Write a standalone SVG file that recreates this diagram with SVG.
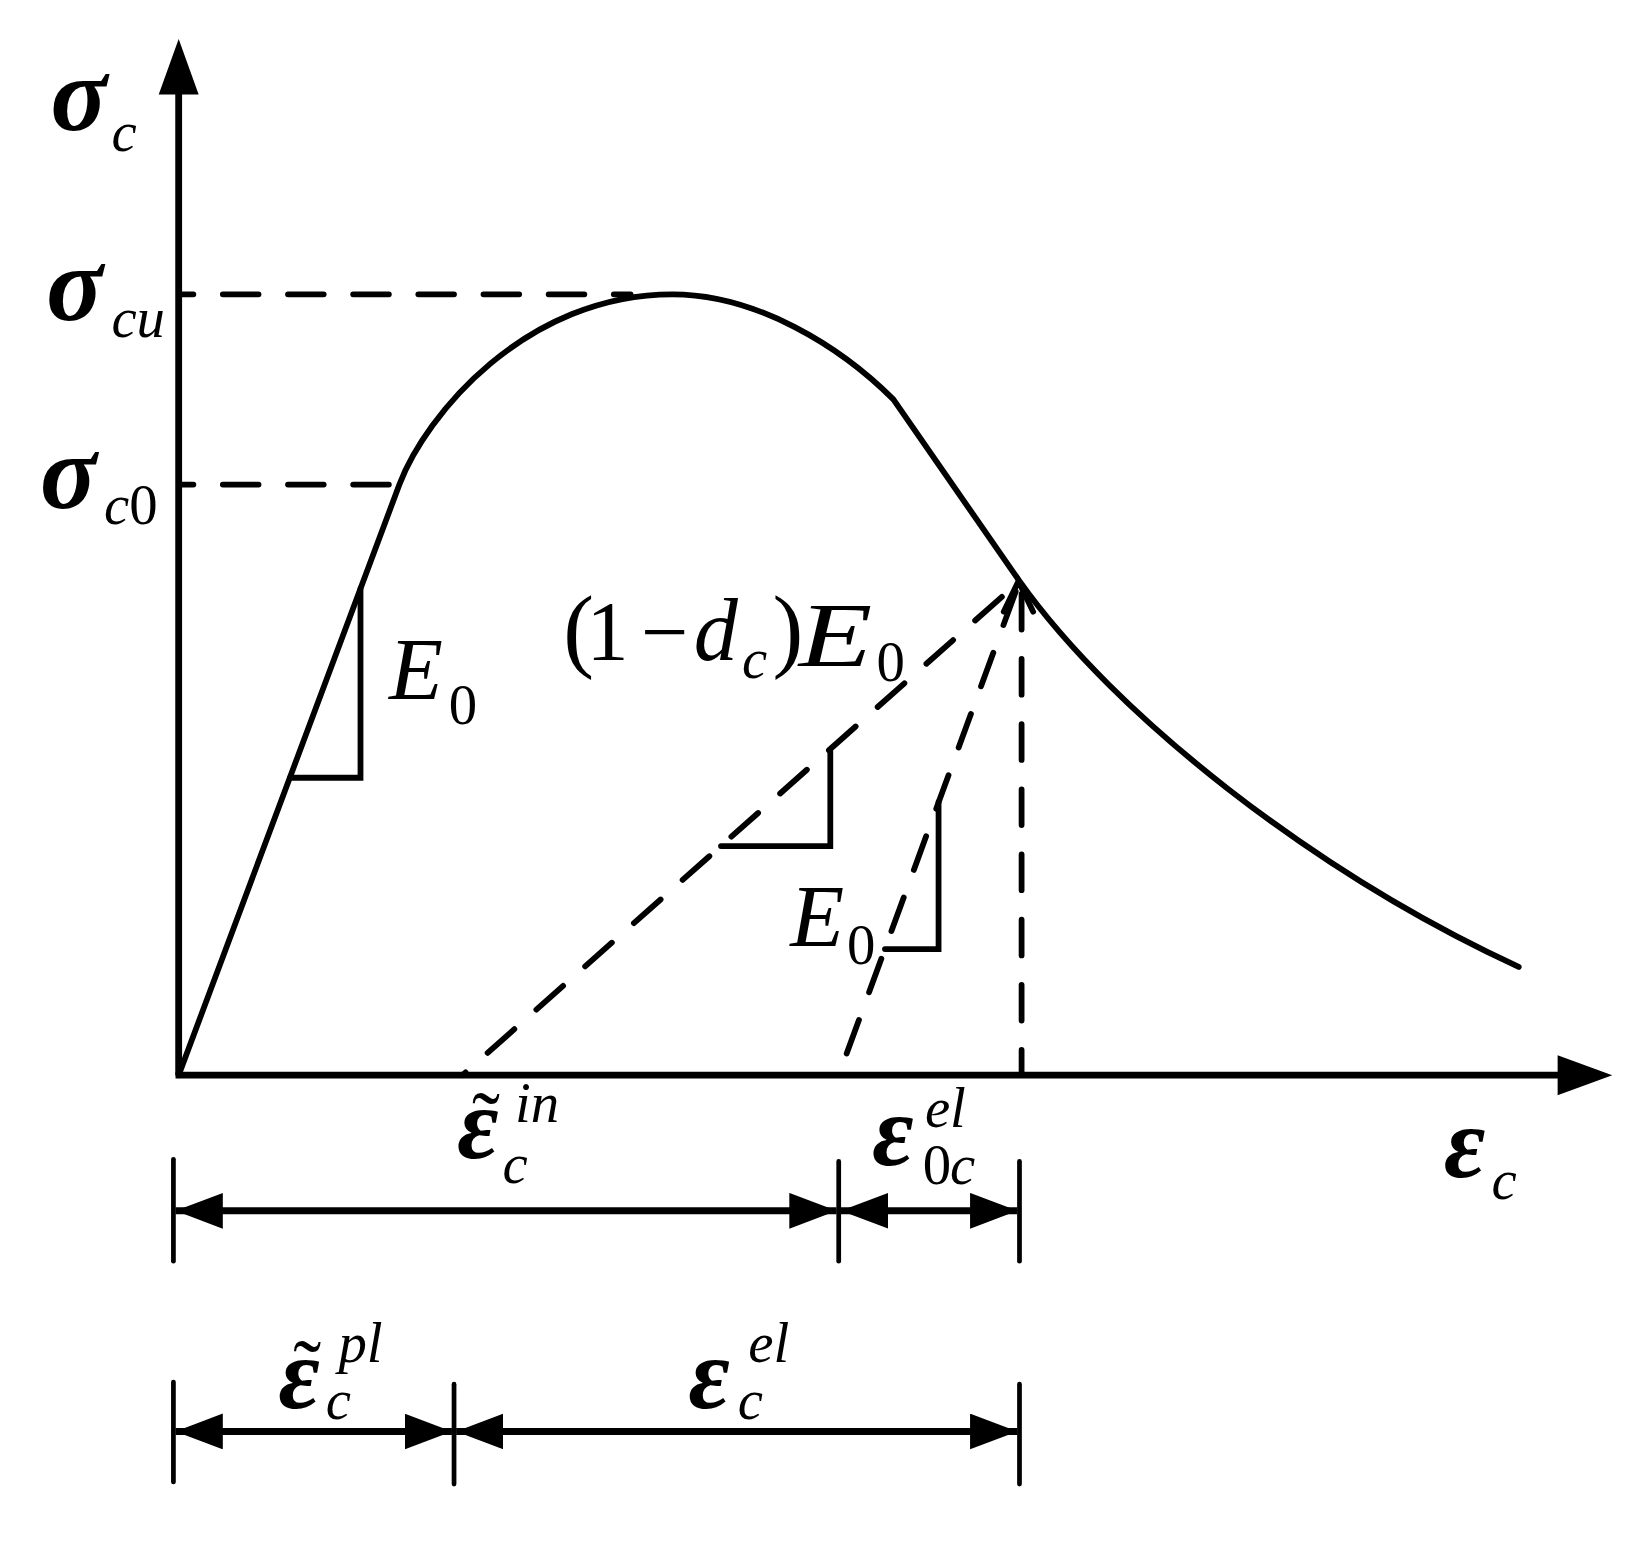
<svg xmlns="http://www.w3.org/2000/svg" width="1648" height="1550" viewBox="0 0 1648 1550">
<style>
.ax{stroke:#000;stroke-width:6.5;fill:none}
.cv{stroke:#000;stroke-width:5.5;fill:none;stroke-linejoin:round;stroke-linecap:round}
.ds{stroke:#000;stroke-width:5.5;fill:none;stroke-dasharray:34 28;stroke-linecap:round}
.sl{stroke:#000;stroke-width:5.5;fill:none;stroke-linecap:round;stroke-linejoin:miter}
.tk{stroke:#000;stroke-width:4.5;fill:none;stroke-linecap:round}
.dm{stroke:#000;stroke-width:6.5;fill:none}
.g{font-family:"Liberation Serif","Times New Roman",serif;font-style:italic;font-weight:bold;font-size:100px;fill:#000}
.e{font-family:"Liberation Serif","Times New Roman",serif;font-style:italic;font-weight:bold;font-size:96px;fill:#000}
.t{font-family:"Liberation Serif","Times New Roman",serif;font-style:italic;font-size:84px;fill:#000}
.u{font-family:"Liberation Serif","Times New Roman",serif;font-style:normal;font-size:80px;fill:#000}
.s{font-family:"Liberation Serif","Times New Roman",serif;font-style:italic;font-size:54px;fill:#000}
.n{font-family:"Liberation Serif","Times New Roman",serif;font-style:normal;font-size:54px;fill:#000}
</style>
<defs>
<marker id="dimarrow" markerUnits="userSpaceOnUse" markerWidth="50" markerHeight="40" refX="45" refY="17" orient="auto-start-reverse" viewBox="0 0 50 40">
<path d="M0,0 L45,17 L0,34 Z" fill="#000"/>
</marker>
</defs>
<g transform="scale(1.05102)">
<g id="axes">
<line class="ax" x1="170" y1="1023" x2="170" y2="80"/>
<polygon points="170,37 189,90 151,90" fill="#000"/>
<line class="ax" x1="167" y1="1023" x2="1490" y2="1023"/>
<polygon points="1534,1023 1482,1004 1482,1042" fill="#000"/>
</g>
<g id="curve">
<path class="cv" d="M170,1023 L380,461 C405,395 500,280 640,280 C720,280 800,330 850,380 L970,553 C1060,680 1250,830 1445,920"/>
</g>
<g id="guides">
<line class="ds" x1="172" y1="280" x2="600" y2="280" stroke-dashoffset="22"/>
<line class="ds" x1="172" y1="461" x2="378" y2="461" stroke-dashoffset="22"/>
<line class="ds" x1="440" y1="1023" x2="970" y2="553" stroke-dashoffset="30"/>
<line class="ds" x1="798" y1="1023" x2="970" y2="553" stroke-dashoffset="40"/>
<line class="ds" x1="972" y1="1023" x2="972" y2="560" stroke-dashoffset="10"/>
<polyline class="sl" points="955,582 969,553 983,582"/>
</g>
<g id="triangles">
<polyline class="sl" points="276,740 343,740 343,560"/>
<polyline class="sl" points="686,805 790,805 790,715"/>
<polyline class="sl" points="842,903 893,903 893,763"/>
</g>
<g id="dimensions">
<line class="tk" x1="165" y1="1103" x2="165" y2="1200"/>
<line class="tk" x1="798" y1="1105" x2="798" y2="1200"/>
<line class="tk" x1="970" y1="1105" x2="970" y2="1200"/>
<line class="dm" x1="167" y1="1152" x2="796" y2="1152" marker-start="url(#dimarrow)" marker-end="url(#dimarrow)"/>
<line class="dm" x1="800" y1="1152" x2="968" y2="1152" marker-start="url(#dimarrow)" marker-end="url(#dimarrow)"/>
<line class="tk" x1="165" y1="1315" x2="165" y2="1410"/>
<line class="tk" x1="432" y1="1317" x2="432" y2="1412"/>
<line class="tk" x1="970" y1="1317" x2="970" y2="1412"/>
<line class="dm" x1="167" y1="1362" x2="430" y2="1362" marker-start="url(#dimarrow)" marker-end="url(#dimarrow)"/>
<line class="dm" x1="434" y1="1362" x2="968" y2="1362" marker-start="url(#dimarrow)" marker-end="url(#dimarrow)"/>
</g>
<g id="labels">
<text class="g" x="48" y="124">σ</text><text class="s" x="106" y="144">c</text>
<text class="g" x="44" y="304">σ</text><text class="s" x="106" y="321">cu</text>
<text class="g" x="38" y="483">σ</text><text class="s" x="99" y="499">c</text><text class="n" x="123" y="499">0</text>
<text class="t" x="370" y="665">E</text><text class="n" x="427" y="689">0</text>
<text class="u" x="536" y="628" style="font-size:88px">(</text>
<text class="u" x="558" y="628">1</text>
<text class="u" x="610" y="628">−</text>
<text class="t" x="660" y="628">d</text>
<text class="s" x="706" y="645">c</text>
<text class="u" x="735" y="628" style="font-size:88px">)</text>
<text class="t" x="760" y="634" style="font-size:86px" textLength="70" lengthAdjust="spacingAndGlyphs">E</text>
<text class="n" x="834" y="648">0</text>
<text class="t" x="752" y="900">E</text><text class="n" x="806" y="917">0</text>
<text class="e" x="435" y="1102">ε</text><text class="u" x="449" y="1094">˜</text><text class="s" x="478" y="1126">c</text><text class="s" x="490" y="1068">in</text>
<text class="e" x="830" y="1108">ε</text><text class="s" x="880" y="1072">el</text><text class="n" x="878" y="1127">0</text><text class="s" x="904" y="1127">c</text>
<text class="e" x="1374" y="1120">ε</text><text class="s" x="1419" y="1141">c</text>
<text class="e" x="265" y="1340">ε</text><text class="u" x="279" y="1330">˜</text><text class="s" x="310" y="1350">c</text><text class="s" x="322" y="1296">pl</text>
<text class="e" x="655" y="1340">ε</text><text class="s" x="702" y="1350">c</text><text class="s" x="712" y="1296">el</text>
</g>
</g>
</svg>
